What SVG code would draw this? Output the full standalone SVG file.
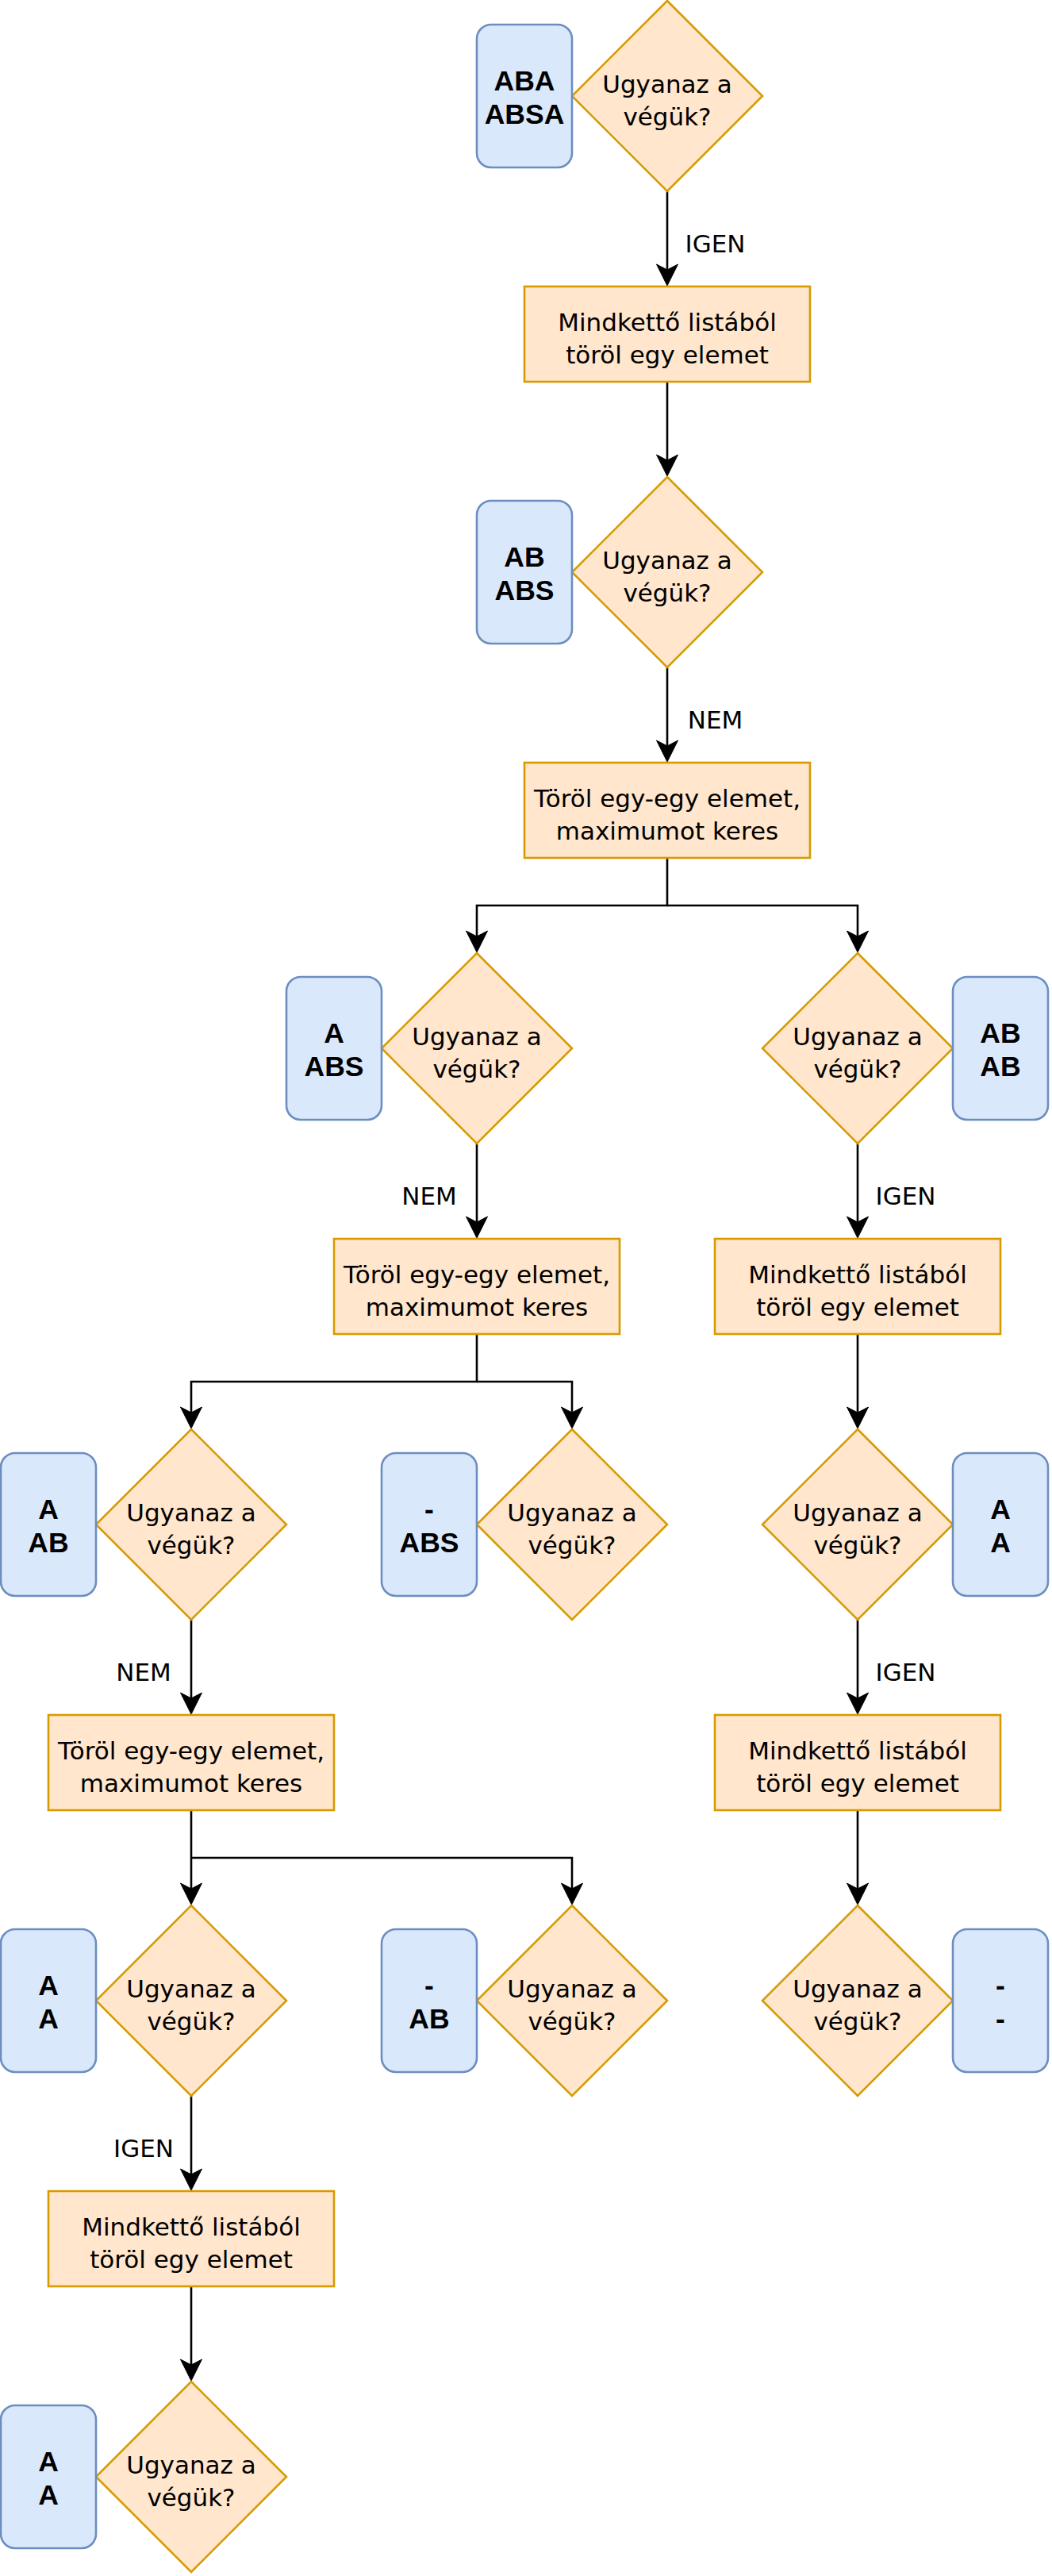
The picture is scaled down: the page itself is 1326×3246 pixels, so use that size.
<svg xmlns="http://www.w3.org/2000/svg" width="1326" height="3246" viewBox="0 0 1326 3246">
<defs>
<style>
.d{fill:#ffe6cc;stroke:#d79b00;stroke-width:2.6}
.r{fill:#ffe6cc;stroke:#d79b00;stroke-width:2.6}
.b{fill:#dae8fc;stroke:#6c8ebf;stroke-width:2.6}
.t{font-family:"DejaVu Sans",Verdana,sans-serif;font-size:31px;fill:#000;text-anchor:middle}
.bt{font-family:"Liberation Sans",Arial,sans-serif;font-size:35.5px;font-weight:bold;fill:#000;text-anchor:middle}
.e{fill:none;stroke:#000;stroke-width:2.6;marker-end:url(#arr)}
</style>
<marker id="arr" viewBox="-8 -15 30 30" refX="0" refY="0" markerWidth="30" markerHeight="30" markerUnits="userSpaceOnUse" orient="auto" overflow="visible">
<path d="M20,0 L-7,-13.5 L0,0 L-7,13.5 Z" fill="#000" stroke="#000" stroke-width="1"/>
</marker>
</defs>
<rect width="1326" height="3246" fill="#fff"/>

<g id="connectors">
<path class="e" d="M841,241 V340"/>
<path class="e" d="M841,481 V580"/>
<path class="e" d="M841,841 V940"/>
<path class="e" d="M841,1081 V1141 H601 V1180"/>
<path class="e" d="M841,1141 H1081 V1180"/>
<path class="e" d="M601,1441 V1540"/>
<path class="e" d="M1081,1441 V1540"/>
<path class="e" d="M601,1681 V1741 H241 V1780"/>
<path class="e" d="M601,1741 H721 V1780"/>
<path class="e" d="M1081,1681 V1780"/>
<path class="e" d="M241,2041 V2140"/>
<path class="e" d="M1081,2041 V2140"/>
<path class="e" d="M241,2281 V2380"/>
<path class="e" d="M241,2341 H721 V2380"/>
<path class="e" d="M1081,2281 V2380"/>
<path class="e" d="M241,2641 V2740"/>
<path class="e" d="M241,2881 V2980"/>
<text class="t" x="901.5" y="317.5">IGEN</text>
<text class="t" x="901.5" y="917.5">NEM</text>
<text class="t" x="541" y="1518">NEM</text>
<text class="t" x="1141.5" y="1518">IGEN</text>
<text class="t" x="181" y="2118">NEM</text>
<text class="t" x="1141.5" y="2118">IGEN</text>
<text class="t" x="181" y="2718">IGEN</text>
</g>

<g id="d1"><polygon class="d" points="841,1 961,121 841,241 721,121"/><text class="t" x="841" y="116.7">Ugyanaz a</text><text class="t" x="841" y="158.3">végük?</text></g>
<g id="b1"><rect class="b" x="601" y="31" width="120" height="180" rx="18"/><text class="bt" x="661" y="114.3">ABA</text><text class="bt" x="661" y="155.7">ABSA</text></g>

<g id="r1"><rect class="r" x="661" y="361" width="360" height="120"/><text class="t" x="841" y="416.7">Mindkettő listából</text><text class="t" x="841" y="458.3">töröl egy elemet</text></g>

<g id="d2"><polygon class="d" points="841,601 961,721 841,841 721,721"/><text class="t" x="841" y="716.7">Ugyanaz a</text><text class="t" x="841" y="758.3">végük?</text></g>
<g id="b2"><rect class="b" x="601" y="631" width="120" height="180" rx="18"/><text class="bt" x="661" y="714.3">AB</text><text class="bt" x="661" y="755.7">ABS</text></g>

<g id="r2"><rect class="r" x="661" y="961" width="360" height="120"/><text class="t" x="841" y="1016.7">Töröl egy-egy elemet,</text><text class="t" x="841" y="1058.3">maximumot keres</text></g>

<g id="d3"><polygon class="d" points="601,1201 721,1321 601,1441 481,1321"/><text class="t" x="601" y="1316.7">Ugyanaz a</text><text class="t" x="601" y="1358.3">végük?</text></g>
<g id="b3"><rect class="b" x="361" y="1231" width="120" height="180" rx="18"/><text class="bt" x="421" y="1314.3">A</text><text class="bt" x="421" y="1355.7">ABS</text></g>

<g id="d4"><polygon class="d" points="1081,1201 1201,1321 1081,1441 961,1321"/><text class="t" x="1081" y="1316.7">Ugyanaz a</text><text class="t" x="1081" y="1358.3">végük?</text></g>
<g id="b4"><rect class="b" x="1201" y="1231" width="120" height="180" rx="18"/><text class="bt" x="1261" y="1314.3">AB</text><text class="bt" x="1261" y="1355.7">AB</text></g>

<g id="r3"><rect class="r" x="421" y="1561" width="360" height="120"/><text class="t" x="601" y="1616.7">Töröl egy-egy elemet,</text><text class="t" x="601" y="1658.3">maximumot keres</text></g>
<g id="r4"><rect class="r" x="901" y="1561" width="360" height="120"/><text class="t" x="1081" y="1616.7">Mindkettő listából</text><text class="t" x="1081" y="1658.3">töröl egy elemet</text></g>

<g id="d5"><polygon class="d" points="241,1801 361,1921 241,2041 121,1921"/><text class="t" x="241" y="1916.7">Ugyanaz a</text><text class="t" x="241" y="1958.3">végük?</text></g>
<g id="b5"><rect class="b" x="1" y="1831" width="120" height="180" rx="18"/><text class="bt" x="61" y="1914.3">A</text><text class="bt" x="61" y="1955.7">AB</text></g>

<g id="d6"><polygon class="d" points="721,1801 841,1921 721,2041 601,1921"/><text class="t" x="721" y="1916.7">Ugyanaz a</text><text class="t" x="721" y="1958.3">végük?</text></g>
<g id="b6"><rect class="b" x="481" y="1831" width="120" height="180" rx="18"/><text class="bt" x="541" y="1914.3">-</text><text class="bt" x="541" y="1955.7">ABS</text></g>

<g id="d7"><polygon class="d" points="1081,1801 1201,1921 1081,2041 961,1921"/><text class="t" x="1081" y="1916.7">Ugyanaz a</text><text class="t" x="1081" y="1958.3">végük?</text></g>
<g id="b7"><rect class="b" x="1201" y="1831" width="120" height="180" rx="18"/><text class="bt" x="1261" y="1914.3">A</text><text class="bt" x="1261" y="1955.7">A</text></g>

<g id="r5"><rect class="r" x="61" y="2161" width="360" height="120"/><text class="t" x="241" y="2216.7">Töröl egy-egy elemet,</text><text class="t" x="241" y="2258.3">maximumot keres</text></g>
<g id="r6"><rect class="r" x="901" y="2161" width="360" height="120"/><text class="t" x="1081" y="2216.7">Mindkettő listából</text><text class="t" x="1081" y="2258.3">töröl egy elemet</text></g>

<g id="d8"><polygon class="d" points="241,2401 361,2521 241,2641 121,2521"/><text class="t" x="241" y="2516.7">Ugyanaz a</text><text class="t" x="241" y="2558.3">végük?</text></g>
<g id="b8"><rect class="b" x="1" y="2431" width="120" height="180" rx="18"/><text class="bt" x="61" y="2514.3">A</text><text class="bt" x="61" y="2555.7">A</text></g>

<g id="d9"><polygon class="d" points="721,2401 841,2521 721,2641 601,2521"/><text class="t" x="721" y="2516.7">Ugyanaz a</text><text class="t" x="721" y="2558.3">végük?</text></g>
<g id="b9"><rect class="b" x="481" y="2431" width="120" height="180" rx="18"/><text class="bt" x="541" y="2514.3">-</text><text class="bt" x="541" y="2555.7">AB</text></g>

<g id="d10"><polygon class="d" points="1081,2401 1201,2521 1081,2641 961,2521"/><text class="t" x="1081" y="2516.7">Ugyanaz a</text><text class="t" x="1081" y="2558.3">végük?</text></g>
<g id="b10"><rect class="b" x="1201" y="2431" width="120" height="180" rx="18"/><text class="bt" x="1261" y="2514.3">-</text><text class="bt" x="1261" y="2555.7">-</text></g>

<g id="r7"><rect class="r" x="61" y="2761" width="360" height="120"/><text class="t" x="241" y="2816.7">Mindkettő listából</text><text class="t" x="241" y="2858.3">töröl egy elemet</text></g>

<g id="d11"><polygon class="d" points="241,3001 361,3121 241,3241 121,3121"/><text class="t" x="241" y="3116.7">Ugyanaz a</text><text class="t" x="241" y="3158.3">végük?</text></g>
<g id="b11"><rect class="b" x="1" y="3031" width="120" height="180" rx="18"/><text class="bt" x="61" y="3114.3">A</text><text class="bt" x="61" y="3155.7">A</text></g>
</svg>
